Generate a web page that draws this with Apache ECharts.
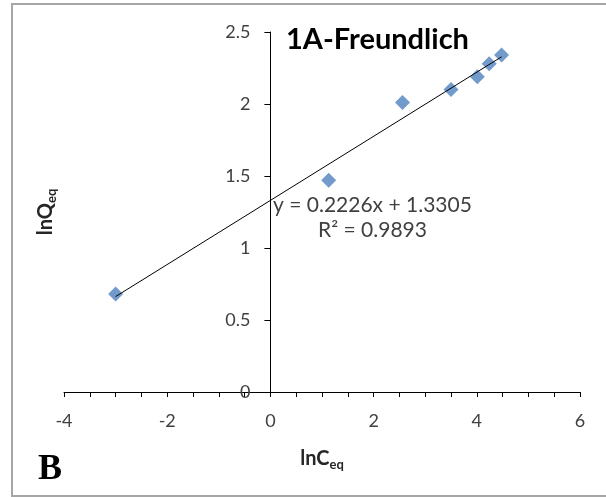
<!DOCTYPE html>
<html>
<head>
<meta charset="utf-8">
<script src="https://cdn.jsdelivr.net/npm/echarts@6/dist/echarts.min.js"></script>
<style>
  html, body { margin: 0; padding: 0; background: #fff; }
  #mainBox { width: 606px; height: 497px; }
</style>
</head>
<body>
<div id="mainBox"></div>
<script>
// 数据：lnCeq / lnQeq
var lnC = [-3.0, 1.13, 2.56, 3.5, 4.01, 4.24, 4.48];
var lnQ = [0.68, 1.47, 2.01, 2.10, 2.19, 2.28, 2.34];
var xTicks = { min: -4, max: 6, step: 2 };
var yTicks = { min: 0, max: 2.5, step: 0.5 };
// 线性拟合
var slope = 0.2226;
var intercept = 1.3305;
var rSquared = 0.9893;

var points = lnC.map(function (x, i) { return [x, lnQ[i]]; });
var xLo = Math.min.apply(null, lnC);
var xHi = Math.max.apply(null, lnC);
var trend = [[xLo, slope * xLo + intercept], [xHi, slope * xHi + intercept]];

var font = 'Lato';
var gridLeft = 64, gridRight = 26;
var gridW = 606 - gridLeft - gridRight;
// y轴放在 x=0 处
var yOffset = -gridW * (0 - xTicks.min) / (xTicks.max - xTicks.min);

var myChart = echarts.init(document.getElementById('mainBox'));

var option = {
    animation: false,
    backgroundColor: '#fff',
    title: {
        text: '1A-Freundlich',
        left: 281,
        top: 20,
        textStyle: { fontFamily: font, fontWeight: 'bold', fontSize: 29, color: '#000' }
    },
    grid: { left: gridLeft, right: gridRight, top: 32, bottom: 105, containLabel: false, outerBoundsMode: 'none' },
    xAxis: {
        type: 'value',
        min: xTicks.min,
        max: xTicks.max,
        interval: xTicks.step,
        name: '{b|lnC}{s|eq}',
        nameLocation: 'middle',
        nameGap: 54,
        nameTextStyle: {
            rich: {
                b: { fontFamily: font, fontWeight: 'bold', fontSize: 20, color: '#262626' },
                s: { fontFamily: font, fontWeight: 'bold', fontSize: 13, color: '#262626', padding: [12, 0, 0, 0] }
            }
        },
        axisLine: { onZero: false, lineStyle: { color: '#000', width: 1 } },
        axisTick: { show: true, length: 5, lineStyle: { color: '#000' } },
        minorTick: { show: true, splitNumber: 4, length: 5, lineStyle: { color: '#000' } },
        splitLine: { show: false },
        axisLabel: { fontFamily: font, fontSize: 18, color: '#404040', margin: 20 }
    },
    yAxis: {
        type: 'value',
        min: yTicks.min,
        max: yTicks.max,
        interval: yTicks.step,
        offset: yOffset,
        name: '{b|lnQ}{s|eq}',
        nameLocation: 'middle',
        nameGap: 212,
        nameRotate: 90,
        nameTextStyle: {
            rich: {
                b: { fontFamily: font, fontWeight: 'bold', fontSize: 20, color: '#262626' },
                s: { fontFamily: font, fontWeight: 'bold', fontSize: 13, color: '#262626', padding: [12, 0, 0, 0] }
            }
        },
        axisLine: { onZero: false, lineStyle: { color: '#000', width: 1 } },
        axisTick: { show: true, length: 6, lineStyle: { color: '#000' } },
        splitLine: { show: false },
        axisLabel: { fontFamily: font, fontSize: 18, color: '#404040', margin: 20 }
    },
    series: [
        {
            name: 'trend',
            type: 'line',
            data: trend,
            symbol: 'none',
            lineStyle: { color: '#000', width: 1 },
            z: 3
        },
        {
            name: 'data',
            type: 'scatter',
            data: points,
            symbol: 'diamond',
            symbolSize: 15,
            itemStyle: { color: '#4F81BD' },
            z: 2
        }
    ],
    graphic: [
        {
            type: 'rect',
            shape: { x: 12, y: 4, width: 600, height: 492 },
            style: { fill: 'none', stroke: '#A6A6A6', lineWidth: 2 },
            silent: true
        },
        {
            type: 'text',
            left: 273,
            top: 195,
            style: { text: 'y = 0.2226x + 1.3305', fontFamily: font, fontSize: 21, fill: '#404040' }
        },
        {
            type: 'text',
            left: 318,
            top: 220,
            style: { text: 'R\u00B2 = ' + rSquared, fontFamily: font, fontSize: 21, fill: '#404040' }
        },
        {
            type: 'text',
            left: 38,
            top: 452,
            style: { text: 'B', fontFamily: 'Liberation Serif', fontWeight: 'bold', fontSize: 36, fill: '#000' }
        }
    ]
};

myChart.setOption(option);
</script>
</body>
</html>
